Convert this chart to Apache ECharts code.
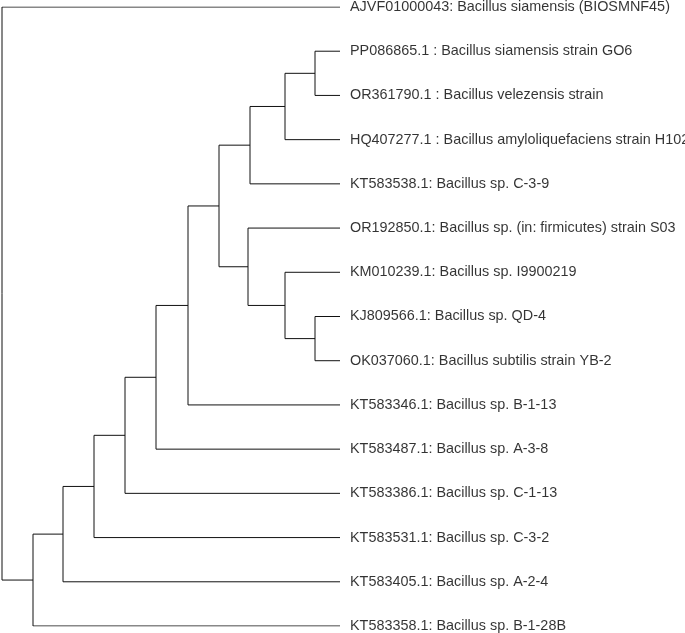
<!DOCTYPE html>
<html><head><meta charset="utf-8">
<script src="https://cdn.jsdelivr.net/npm/echarts@6/dist/echarts.min.js"></script>
<style>html,body{margin:0;padding:0;background:#fff}#c{width:685px;height:633px}</style>
</head><body><div id="c"></div>
<script>
const leafNames = [
 "AJVF01000043: Bacillus siamensis (BIOSMNF45)",
 "PP086865.1 : Bacillus siamensis strain GO6",
 "OR361790.1 : Bacillus velezensis strain",
 "HQ407277.1 : Bacillus amyloliquefaciens strain H102",
 "KT583538.1: Bacillus sp. C-3-9",
 "OR192850.1: Bacillus sp. (in: firmicutes) strain S03",
 "KM010239.1: Bacillus sp. I9900219",
 "KJ809566.1: Bacillus sp. QD-4",
 "OK037060.1: Bacillus subtilis strain YB-2",
 "KT583346.1: Bacillus sp. B-1-13",
 "KT583487.1: Bacillus sp. A-3-8",
 "KT583386.1: Bacillus sp. C-1-13",
 "KT583531.1: Bacillus sp. C-3-2",
 "KT583405.1: Bacillus sp. A-2-4",
 "KT583358.1: Bacillus sp. B-1-28B"
];
const leafDepth = [338,338,338,338,338,338,338,338,338,338,338,338,338,338,338];
// internal nodes: id, depth, child A, child B  (children: "L<i>" leaf or "N<id>")
const nodeIds    = ["n315a","n285","n250","n315b","n283","n248","n219","n188","n156","n125","n94","n63","n33","root"];
const nodeDepth  = [313,283,248,313,283,246,217,186,154,123,92,61,31,0];
const nodeChildA = ["L1","Nn315a","Nn285","L7","L6","L5","Nn250","L9","L10","L11","L12","L13","L14","L0"];
const nodeChildB = ["L2","L3","L4","L8","Nn315b","Nn283","Nn248","Nn219","Nn188","Nn156","Nn125","Nn94","Nn63","Nn33"];

const pos = {};
leafNames.forEach((n,i)=>{pos["L"+i]=[leafDepth[i], i];});
const segs = [];
nodeIds.forEach((id,k)=>{
  const a = pos[nodeChildA[k]], b = pos[nodeChildB[k]], d = nodeDepth[k];
  const y = (a[1]+b[1])/2;
  pos["N"+id] = [d, y];
  segs.push({coords:[[a[0],a[1]],[d,a[1]],[d,b[1]],[b[0],b[1]]]});
});
const leafPts = leafNames.map((n,i)=>({value:[leafDepth[i], i], name:n}));

const chart = echarts.init(document.getElementById('c'));
chart.setOption({
  animation:false,
  grid:{left:2,right:3,top:7,bottom:7},
  xAxis:{type:'value',min:0,max:680,show:false},
  yAxis:{type:'value',min:0,max:14,inverse:true,show:false},
  series:[
    {type:'lines',coordinateSystem:'cartesian2d',polyline:true,
     lineStyle:{color:'#111',width:1,opacity:1},data:segs},
    {type:'scatter',symbolSize:0,data:leafPts,
     label:{show:true,position:'right',distance:10,formatter:p=>p.name,
            color:'#000',fontFamily:'Liberation Sans, Arial, sans-serif',fontSize:14.4}}
  ]
});
</script></body></html>
